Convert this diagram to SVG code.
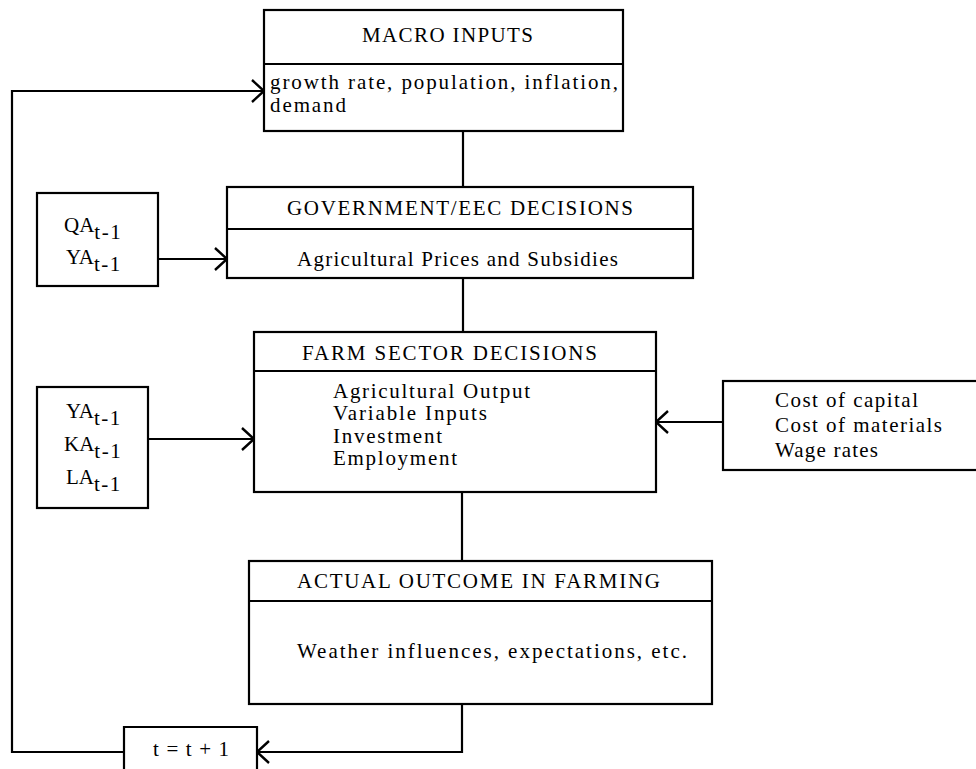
<svg xmlns="http://www.w3.org/2000/svg" width="976" height="769" viewBox="0 0 976 769">
  <defs>
    <style>
      .box { fill: #fff; stroke: #000; stroke-width: 2.2; }
      .div { stroke: #000; stroke-width: 2; fill: none; }
      .wire { stroke: #000; stroke-width: 2.2; fill: none; }
      text { font-family: "Liberation Serif", "Times New Roman", serif; font-size: 21px; fill: #000; }
      .sub { letter-spacing: 1.5px; }
    </style>
    <marker id="chev" viewBox="-15 -13 17 26" markerWidth="17" markerHeight="26" refX="0" refY="0" orient="auto" markerUnits="userSpaceOnUse">
      <path d="M -12 -11 L 0 0 L -12 11" fill="none" stroke="#000" stroke-width="2.4"/>
    </marker>
  </defs>

  <rect width="976" height="769" fill="#fff"/>

  <!-- connectors -->
  <g id="connectors">
    <line class="wire" x1="463" y1="131" x2="463" y2="187"/>
    <line class="wire" x1="463" y1="278" x2="463" y2="332"/>
    <line class="wire" x1="462" y1="492" x2="462" y2="561"/>
    <line class="wire" x1="158" y1="259" x2="227" y2="259" marker-end="url(#chev)"/>
    <line class="wire" x1="148" y1="439" x2="254" y2="439" marker-end="url(#chev)"/>
    <line class="wire" x1="723" y1="422" x2="656" y2="422" marker-end="url(#chev)"/>
    <polyline class="wire" points="462,704 462,752 257,752" marker-end="url(#chev)"/>
    <polyline class="wire" points="124,752 12,752 12,91 264,91" marker-end="url(#chev)"/>
  </g>

  <!-- macro inputs -->
  <g id="macro">
    <rect class="box" x="264" y="10" width="359" height="121"/>
    <line class="div" x1="264" y1="64" x2="623" y2="64"/>
    <text x="362" y="42" textLength="171" lengthAdjust="spacing">MACRO INPUTS</text>
    <text x="270" y="89" textLength="348" lengthAdjust="spacing">growth rate, population, inflation,</text>
    <text x="270" y="112" textLength="76" lengthAdjust="spacing">demand</text>
  </g>

  <!-- lagged inputs to government -->
  <g id="lag-gov">
    <rect class="box" x="37" y="193" width="121" height="93"/>
    <text x="64" y="232">QA<tspan class="sub" dy="7">t-1</tspan></text>
    <text x="66" y="264">YA<tspan class="sub" dy="7">t-1</tspan></text>
  </g>

  <!-- government decisions -->
  <g id="gov">
    <rect class="box" x="227" y="187" width="466" height="91"/>
    <line class="div" x1="227" y1="229" x2="693" y2="229"/>
    <text x="287" y="215" textLength="346" lengthAdjust="spacing">GOVERNMENT/EEC DECISIONS</text>
    <text x="297" y="266" textLength="321" lengthAdjust="spacing">Agricultural Prices and Subsidies</text>
  </g>

  <!-- lagged inputs to farm sector -->
  <g id="lag-farm">
    <rect class="box" x="37" y="387" width="111" height="121"/>
    <text x="66" y="418">YA<tspan class="sub" dy="7">t-1</tspan></text>
    <text x="64" y="451">KA<tspan class="sub" dy="7">t-1</tspan></text>
    <text x="66" y="484">LA<tspan class="sub" dy="7">t-1</tspan></text>
  </g>

  <!-- farm sector decisions -->
  <g id="farm">
    <rect class="box" x="254" y="332" width="402" height="160"/>
    <line class="div" x1="254" y1="371" x2="656" y2="371"/>
    <text x="302" y="360" textLength="295" lengthAdjust="spacing">FARM SECTOR DECISIONS</text>
    <text x="333" y="398" textLength="197" lengthAdjust="spacing">Agricultural Output</text>
    <text x="333" y="420" textLength="154" lengthAdjust="spacing">Variable Inputs</text>
    <text x="333" y="443" textLength="109" lengthAdjust="spacing">Investment</text>
    <text x="333" y="465" textLength="124" lengthAdjust="spacing">Employment</text>
  </g>

  <!-- factor costs -->
  <g id="costs">
    <rect class="box" x="723" y="381" width="270" height="89"/>
    <text x="775" y="407" textLength="143" lengthAdjust="spacing">Cost of capital</text>
    <text x="775" y="432" textLength="167" lengthAdjust="spacing">Cost of materials</text>
    <text x="775" y="457" textLength="103" lengthAdjust="spacing">Wage rates</text>
  </g>

  <!-- actual outcome -->
  <g id="outcome">
    <rect class="box" x="249" y="561" width="463" height="143"/>
    <line class="div" x1="249" y1="601" x2="712" y2="601"/>
    <text x="297" y="588" textLength="363" lengthAdjust="spacing">ACTUAL OUTCOME IN FARMING</text>
    <text x="297" y="658" textLength="390" lengthAdjust="spacing">Weather influences, expectations, etc.</text>
  </g>

  <!-- time step -->
  <g id="step">
    <path class="box" d="M 124 780 L 124 727 L 257 727 L 257 780"/>
    <text x="153" y="756" textLength="76" lengthAdjust="spacing">t = t + 1</text>
  </g>
</svg>
